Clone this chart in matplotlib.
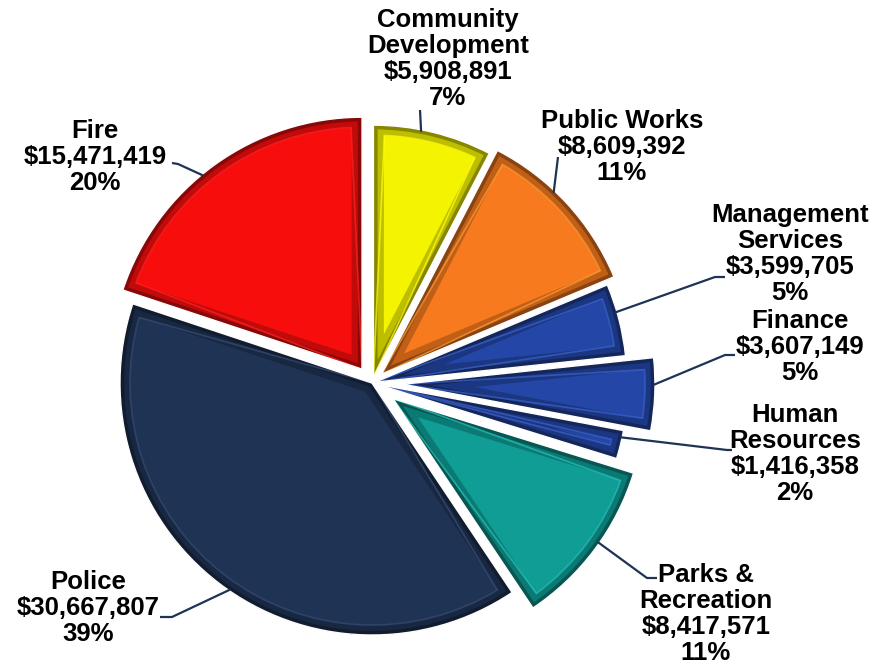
import matplotlib
matplotlib.use("Agg")
import matplotlib.pyplot as plt
import matplotlib.colors as mcolors
import matplotlib.patches as mpatches
import numpy as np

# department budgets, clockwise from 12 o'clock
depts = ["Community\nDevelopment", "Public Works", "Management\nServices", "Finance",
         "Human\nResources", "Parks &\nRecreation", "Police", "Fire"]
amounts = [5908891, 8609392, 3599705, 3607149, 1416358, 8417571, 30667807, 15471419]
pcts = [7, 11, 5, 5, 2, 11, 39, 20]

colors = ["#F4F400", "#F77A1E", "#2446A6", "#2446A6", "#2446A6", "#0F9D95", "#1F3355", "#F80D0D"]
explode = [6, 13, 3, 31, 4, 26, 0, 17]

plt.rcParams["font.family"] = ["Liberation Sans", "DejaVu Sans"]

fig = plt.figure(figsize=(8.74, 6.67), dpi=100)
ax = fig.add_axes([0, 0, 1, 1])

center = (372, 284)
wedges, _ = ax.pie(amounts, colors=colors, explode=explode, startangle=90,
                   counterclock=False, radius=252, center=center,
                   wedgeprops=dict(linewidth=0))

# fake bevel: shaded rim drawn on copies of each wedge, clipped to the wedge
for w, c in zip(wedges, colors):
    rgb = np.array(mcolors.to_rgb(c))
    for lw, shade in [(15, 0.78), (6, 0.55)]:
        rim = mpatches.Wedge(w.center, w.r, w.theta1, w.theta2, fc="none",
                             ec=rgb * shade, lw=lw, joinstyle="miter")
        ax.add_patch(rim)
        rim.set_clip_path(w)
    hi = mpatches.Wedge(w.center, w.r - 10, w.theta1 + 2.6, w.theta2 - 2.6, fc="none",
                        ec=np.minimum(rgb * 1.12 + 0.08, 1), lw=1.2, alpha=0.7)
    ax.add_patch(hi)
    hi.set_clip_path(w)
    edge = mpatches.Wedge(w.center, w.r, w.theta1, w.theta2, fc="none",
                          ec="white", lw=1.0)
    ax.add_patch(edge)

# label text position (image px from top-left)
label_xy = [(448, 59), (622, 147), (790, 254), (800, 347),
            (795, 454), (706, 614), (88, 608), (95, 157)]
# leader: text end, elbow (image px), and angle on the wedge rim
lead_end = [(420, 110), (558, 157), (725, 277), (735, 355),
            (732, 450), (657, 578), (160, 617), (172, 163)]
lead_elbow = [(420, 110), (558, 157), (715, 277), (725, 355),
              (727, 450), (647, 578), (172, 617), (178, 164)]
leader_theta = [79, 46.5, 16.2, -0.2, -12.3, -35, 235.6, 129.3]

H = 667
for i, w in enumerate(wedges):
    t = np.deg2rad(leader_theta[i])
    px = w.center[0] + (w.r - 2) * np.cos(t)
    py = w.center[1] + (w.r - 2) * np.sin(t)
    xs = [lead_end[i][0], lead_elbow[i][0], px]
    ys = [H - lead_end[i][1], H - lead_elbow[i][1], py]
    ax.plot(xs, ys, color="#1F3355", lw=1.6, solid_capstyle="butt")
    txt = "%s\n$%s\n%d%%" % (depts[i], format(amounts[i], ","), pcts[i])
    ax.text(label_xy[i][0], H - label_xy[i][1], txt, ha="center", va="center",
            fontsize=18.5, fontweight="bold", linespacing=1.1, color="black")

ax.set_xlim(0, 874)
ax.set_ylim(0, 667)
ax.set_aspect("equal")
ax.axis("off")

fig.savefig("out.png", dpi=100)
